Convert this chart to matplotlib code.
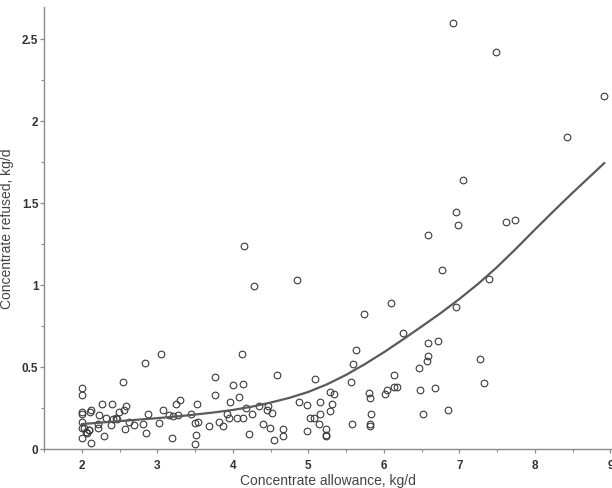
import matplotlib
matplotlib.use("Agg")
import matplotlib.pyplot as plt
from matplotlib.ticker import MultipleLocator, FuncFormatter

# Observed data: concentrate allowance (kg/d) vs concentrate refused (kg/d)
allowance = [
    6.92, 7.49, 8.92, 8.42, 7.05, 6.95, 6.98, 7.62, 7.73, 6.58,
    4.15, 6.77, 4.28, 4.85, 7.39, 6.09, 6.95, 5.74, 6.25, 6.58,
    6.72, 5.63, 3.05, 4.12, 6.58, 6.57, 7.27, 2.84, 5.59, 6.46,
    4.58, 3.76, 2.55, 5.09, 6.13, 5.56, 4.00, 4.13, 7.33, 2.00,
    2.00, 6.13, 6.18, 6.48, 6.68, 6.04, 6.01, 5.80, 5.81, 5.29,
    5.34, 3.76, 4.08, 3.30, 3.25, 3.52, 3.96, 4.87, 5.16, 5.31,
    4.98, 2.27, 2.40, 2.59, 4.35, 4.47, 3.07, 2.56, 2.12, 2.11,
    2.00, 2.00, 2.49, 3.92, 4.17, 4.45, 4.52, 5.29, 5.83, 6.52,
    6.85, 2.23, 2.88, 3.16, 3.21, 3.27, 3.44, 4.26, 5.15, 2.32,
    2.45, 3.95, 4.05, 4.14, 5.02, 5.07, 2.00, 2.63, 3.50, 3.54,
    3.82, 3.02, 2.22, 2.39, 2.69, 2.81, 3.68, 3.87, 4.40, 5.58,
    5.14, 5.81, 5.81, 2.00, 2.03, 2.22, 2.57, 4.49, 4.67, 5.24,
    2.10, 2.06, 2.85, 4.98, 4.21, 3.51, 2.30, 4.66, 5.24, 5.24,
    2.00, 3.19, 4.55, 2.12, 3.50, 2.07, 2.10, 2.41, 2.47,
]
refused = [
    2.60, 2.42, 2.15, 1.90, 1.64, 1.444, 1.363, 1.387, 1.396, 1.304,
    1.235, 1.089, 0.994, 1.032, 1.034, 0.892, 0.864, 0.824, 0.706, 0.645,
    0.657, 0.604, 0.580, 0.582, 0.568, 0.535, 0.548, 0.527, 0.519, 0.491,
    0.450, 0.438, 0.410, 0.426, 0.450, 0.410, 0.389, 0.398, 0.402, 0.373,
    0.329, 0.377, 0.377, 0.361, 0.373, 0.357, 0.333, 0.341, 0.312, 0.349,
    0.333, 0.329, 0.320, 0.296, 0.276, 0.276, 0.288, 0.284, 0.288, 0.272,
    0.270, 0.272, 0.272, 0.260, 0.264, 0.260, 0.239, 0.235, 0.239, 0.227,
    0.227, 0.211, 0.223, 0.211, 0.247, 0.239, 0.219, 0.231, 0.211, 0.215,
    0.239, 0.207, 0.211, 0.207, 0.203, 0.207, 0.211, 0.211, 0.211, 0.187,
    0.187, 0.191, 0.187, 0.187, 0.187, 0.187, 0.162, 0.162, 0.158, 0.162,
    0.162, 0.158, 0.150, 0.146, 0.146, 0.152, 0.142, 0.142, 0.154, 0.154,
    0.154, 0.154, 0.142, 0.130, 0.126, 0.126, 0.122, 0.130, 0.122, 0.122,
    0.114, 0.105, 0.097, 0.110, 0.093, 0.085, 0.081, 0.081, 0.085, 0.081,
    0.069, 0.065, 0.057, 0.037, 0.028, 0.100, 0.118, 0.185, 0.180,
]

# Fitted curve
fit_x = [2.0, 2.25, 2.5, 2.75, 3.0, 3.25, 3.5, 3.75, 4.0, 4.25, 4.5, 4.75,
         5.0, 5.25, 5.5, 5.75, 6.0, 6.25, 6.5, 6.75, 7.0, 7.25, 7.5, 7.75,
         8.0, 8.25, 8.5, 8.75, 8.92]
fit_y = [0.152, 0.161, 0.170, 0.179, 0.188, 0.198, 0.210, 0.223, 0.238, 0.258,
         0.283, 0.312, 0.348, 0.395, 0.452, 0.518, 0.590, 0.667, 0.747, 0.828,
         0.915, 1.008, 1.110, 1.222, 1.338, 1.452, 1.563, 1.671, 1.744]

x_ticks = [2, 3, 4, 5, 6, 7, 8, 9]
y_ticks = [0, 0.5, 1, 1.5, 2, 2.5]

plt.rcParams['font.family'] = ['Liberation Sans', 'DejaVu Sans']

fig = plt.figure(figsize=(6.12, 4.89), dpi=100)
ax = fig.add_axes([44 / 612, 1 - 450 / 489, 1 - 44 / 612, (450 - 8) / 489])

ax.plot(allowance, refused, linestyle='none', marker='o', markersize=4.8,
        markerfacecolor='none', markeredgecolor='#3a3a3a', markeredgewidth=0.8,
        clip_on=False)
ax.plot(fit_x, fit_y, color='#5a5a5a', linewidth=1.6, solid_capstyle='round',
        solid_joinstyle='round')

ax.set_xlim(1.5, 9.02)
ax.set_ylim(0, 2.695)
ax.set_xticks(x_ticks)
ax.set_yticks(y_ticks)
ax.xaxis.set_minor_locator(MultipleLocator(0.5))
ax.yaxis.set_minor_locator(MultipleLocator(0.25))
ax.yaxis.set_major_formatter(FuncFormatter(lambda v, p: f"{v:g}"))

for s in ['top', 'right']:
    ax.spines[s].set_visible(False)
for s in ['left', 'bottom']:
    ax.spines[s].set_color('#8a8a8a')
    ax.spines[s].set_linewidth(1.0)

ax.tick_params(axis='both', which='major', length=3, width=0.9, color='#8a8a8a',
               labelsize=8.5, labelcolor='#333333')
ax.tick_params(axis='y', which='major', pad=1)
ax.tick_params(axis='x', which='major', pad=4)
ax.tick_params(axis='both', which='minor', length=2, width=0.8, color='#8a8a8a')
for lbl in ax.get_xticklabels() + ax.get_yticklabels():
    lbl.set_fontweight('bold')

ax.set_xlabel('Concentrate allowance, kg/d', fontsize=10, color='#444444', labelpad=2)
ax.set_ylabel('Concentrate refused, kg/d', fontsize=10, color='#444444')
ax.yaxis.set_label_coords(-0.052, 0.5)

fig.savefig('out.png', dpi=100)
